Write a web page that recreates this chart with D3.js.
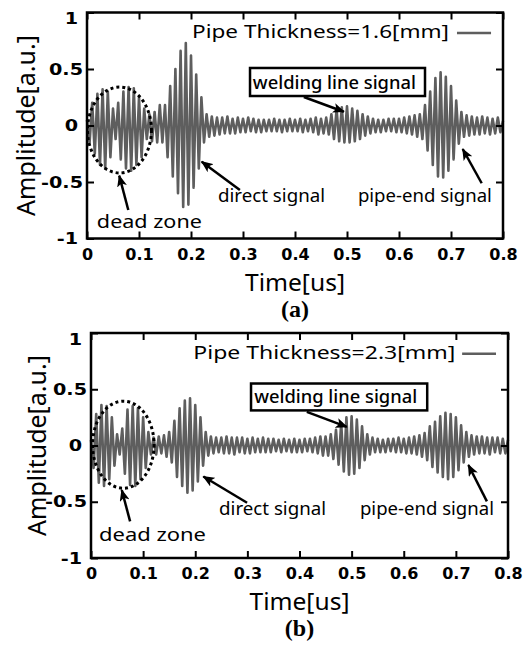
<!DOCTYPE html>
<html>
<head>
<meta charset="utf-8">
<script src="https://cdn.jsdelivr.net/npm/d3@7"></script>
<style>
  body { margin: 0; background: #fff; }
  text { fill: #000; }
</style>
</head>
<body>
<svg id="chart" width="528" height="650"></svg>
<script>
const dt = 0.005;

// (a) pipe thickness 1.6 mm
const signalA = [
  0.05, -0.15, 0.20, -0.25, 0.28, -0.35, 0.32, -0.38, 0.30, -0.28,
  0.15, -0.12, 0.20, -0.30, 0.30, -0.38, 0.34, -0.40, 0.33, -0.35,
  0.25, -0.28, 0.15, -0.12, 0.10, -0.14, 0.12, -0.15, 0.18, -0.15,
  0.18, -0.28, 0.35, -0.45, 0.50, -0.60, 0.66, -0.72, 0.73, -0.70,
  0.62, -0.55, 0.45, -0.38, 0.25, -0.15, 0.10, -0.10, 0.08, -0.09,
  0.07, -0.08, 0.07, -0.07, 0.08, -0.07, 0.06, -0.07, 0.07, -0.06,
  0.06, -0.06, 0.07, -0.05, 0.06, -0.06, 0.05, -0.06, 0.05, -0.05,
  0.05, -0.05, 0.06, -0.05, 0.05, -0.06, 0.05, -0.05, 0.06, -0.05,
  0.05, -0.05, 0.06, -0.06, 0.05, -0.05, 0.06, -0.06, 0.07, -0.08,
  0.06, -0.07, 0.07, -0.08, 0.10, -0.12, 0.14, -0.14, 0.16, -0.15,
  0.17, -0.15, 0.15, -0.14, 0.13, -0.12, 0.10, -0.09, 0.08, -0.07,
  0.06, -0.06, 0.05, -0.06, 0.05, -0.05, 0.06, -0.05, 0.06, -0.06,
  0.06, -0.06, 0.07, -0.07, 0.08, -0.08, 0.09, -0.10, 0.10, -0.12,
  0.18, -0.22, 0.30, -0.35, 0.42, -0.45, 0.47, -0.46, 0.43, -0.40,
  0.35, -0.30, 0.22, -0.16, 0.12, -0.10, 0.09, -0.09, 0.08, -0.08,
  0.07, -0.08, 0.08, -0.07, 0.07, -0.08, 0.06, -0.07, 0.07, -0.06,
  0.04
];

// (b) pipe thickness 2.3 mm
const signalB = [
  0.05, -0.20, 0.28, -0.33, 0.36, -0.36, 0.35, -0.30, 0.25, -0.18,
  0.10, -0.08, 0.15, -0.25, 0.32, -0.35, 0.35, -0.36, 0.33, -0.30,
  0.25, -0.20, 0.12, -0.08, 0.07, -0.08, 0.08, -0.07, 0.09, -0.10,
  0.12, -0.15, 0.22, -0.28, 0.33, -0.36, 0.40, -0.42, 0.42, -0.40,
  0.36, -0.32, 0.25, -0.18, 0.12, -0.09, 0.08, -0.07, 0.07, -0.06,
  0.07, -0.07, 0.08, -0.07, 0.07, -0.08, 0.07, -0.06, 0.07, -0.07,
  0.06, -0.07, 0.07, -0.06, 0.06, -0.06, 0.07, -0.06, 0.06, -0.06,
  0.06, -0.05, 0.05, -0.06, 0.06, -0.05, 0.05, -0.06, 0.06, -0.06,
  0.05, -0.06, 0.06, -0.05, 0.06, -0.06, 0.07, -0.07, 0.08, -0.09,
  0.08, -0.09, 0.10, -0.12, 0.14, -0.17, 0.20, -0.23, 0.25, -0.26,
  0.26, -0.25, 0.23, -0.20, 0.17, -0.13, 0.10, -0.08, 0.07, -0.06,
  0.06, -0.06, 0.05, -0.06, 0.06, -0.05, 0.06, -0.06, 0.07, -0.06,
  0.06, -0.07, 0.07, -0.07, 0.08, -0.08, 0.09, -0.10, 0.11, -0.13,
  0.17, -0.19, 0.21, -0.24, 0.26, -0.28, 0.29, -0.30, 0.28, -0.28,
  0.25, -0.22, 0.18, -0.15, 0.12, -0.10, 0.09, -0.08, 0.08, -0.07,
  0.08, -0.07, 0.07, -0.08, 0.07, -0.06, 0.07, -0.07, 0.06, -0.07,
  0.05
];

const xTicks = [0, 0.1, 0.2, 0.3, 0.4, 0.5, 0.6, 0.7, 0.8];
const yTicks = [-1, -0.5, 0, 0.5, 1];
const xTitle = "Time[us]";
const yTitle = "Amplitude[a.u.]";
const legendLabels = ["Pipe Thickness=1.6[mm]", "Pipe Thickness=2.3[mm]"];
const panelLabels = ["(a)", "(b)"];
const calloutTexts = ["welding line signal", "dead zone", "direct signal", "pipe-end signal"];

// Layout of each panel; callouts are placed in data units (time, amplitude)
const panels = [
  {
    signal: signalA, left: 87, top: 12.5, width: 416, height: 226, titleX: 35,
    legend: { t: 0.202, a: 0.774, len: 257, line: [0.7115, 0.777], lineA: 0.819 },
    box: { t0: 0.3135, t1: 0.65, a0: 0.261, a1: 0.509 },
    labels: [
      { t: 0.319, a: 0.323, len: 163 },
      { t: 0.019, a: -0.907, len: 105 },
      { t: 0.252, a: -0.677, len: 107 },
      { t: 0.521, a: -0.677, len: 134 }
    ],
    arrows: [
      [[0.417, 0.252], [0.494, 0.122]],
      [[0.0794, -0.748], [0.062, -0.444]],
      [[0.294, -0.571], [0.2206, -0.32]],
      [[0.759, -0.511], [0.7225, -0.208]]
    ],
    zone: { t: 0.0625, a: -0.04, rt: 0.0615, ra: 0.38 }
  },
  {
    signal: signalB, left: 91, top: 333, width: 417, height: 225, titleX: 46,
    legend: { t: 0.1963, a: 0.772, len: 262, line: [0.712, 0.777], lineA: 0.816 },
    box: { t0: 0.307, t1: 0.645, a0: 0.312, a1: 0.551 },
    labels: [
      { t: 0.313, a: 0.376, len: 163 },
      { t: 0.0154, a: -0.851, len: 107 },
      { t: 0.2457, a: -0.615, len: 107 },
      { t: 0.516, a: -0.615, len: 134 }
    ],
    arrows: [
      [[0.414, 0.299], [0.4908, 0.166]],
      [[0.075, -0.674], [0.059, -0.396]],
      [[0.2994, -0.509], [0.2155, -0.276]],
      [[0.7595, -0.497], [0.724, -0.173]]
    ],
    zone: { t: 0.062, a: 0.007, rt: 0.059, ra: 0.387 }
  }
];

const svg = d3.select("#chart");
const labelFont = "'Noto Sans', 'Open Sans', sans-serif";
const tickFont = "'DejaVu Sans', Verdana, sans-serif";

svg.append("defs").append("marker")
  .attr("id", "head")
  .attr("viewBox", "0 0 12 10")
  .attr("refX", 11).attr("refY", 5)
  .attr("markerWidth", 12).attr("markerHeight", 10)
  .attr("markerUnits", "userSpaceOnUse")
  .attr("orient", "auto")
  .append("path")
  .attr("d", "M0,0 L12,5 L0,10 L3,5 Z")
  .attr("fill", "#000");

panels.forEach((p, k) => {
  const x = d3.scaleLinear().domain([0, 0.8]).range([0, p.width]);
  const y = d3.scaleLinear().domain([-1, 1]).range([p.height, 0]);
  const g = svg.append("g").attr("transform", `translate(${p.left},${p.top})`);

  // waveform
  const line = d3.line().x((d, i) => x(i * dt)).y(d => y(d));
  g.append("path")
    .datum(p.signal)
    .attr("d", line)
    .attr("fill", "none")
    .attr("stroke", "#5e5e5e")
    .attr("stroke-width", 2.6)
    .attr("stroke-linejoin", "round");

  // inward ticks on all four sides
  const tick = 7;
  const xAxis = g.append("g").attr("transform", `translate(0,${p.height})`)
    .call(d3.axisBottom(x).tickValues(xTicks).tickSize(-tick).tickPadding(10)
      .tickFormat(d => d === 0 ? "0" : d3.format(".1f")(d)));
  xAxis.select(".domain").remove();
  xAxis.selectAll("line").attr("stroke-width", 2);
  xAxis.selectAll("text")
    .attr("font-family", tickFont).attr("font-size", 16).attr("font-weight", "bold");

  const yAxis = g.append("g")
    .call(d3.axisLeft(y).tickValues(yTicks).tickSize(-tick).tickPadding(4)
      .tickFormat(d => String(d)));
  yAxis.select(".domain").remove();
  yAxis.selectAll("line").attr("stroke-width", 2);
  yAxis.selectAll("text")
    .attr("font-family", tickFont).attr("font-size", 16).attr("font-weight", "bold")
    .attr("x", null)
    .attr("transform", d => `translate(${Number.isInteger(d) ? -9 : -4},${d === 1 ? 6 : 0}) scale(1.2,1)`);

  const topAxis = g.append("g")
    .call(d3.axisTop(x).tickValues(xTicks).tickSize(-tick).tickFormat(""));
  topAxis.select(".domain").remove();
  topAxis.selectAll("line").attr("stroke-width", 2);

  const rightAxis = g.append("g").attr("transform", `translate(${p.width},0)`)
    .call(d3.axisRight(y).tickValues(yTicks).tickSize(-tick).tickFormat(""));
  rightAxis.select(".domain").remove();
  rightAxis.selectAll("line").attr("stroke-width", 2);

  g.append("rect")
    .attr("width", p.width).attr("height", p.height)
    .attr("fill", "none").attr("stroke", "#000").attr("stroke-width", 2.5);

  // axis titles
  g.append("text")
    .attr("x", p.width / 2).attr("y", p.height + 52)
    .attr("text-anchor", "middle")
    .attr("font-family", labelFont).attr("font-size", 24)
    .attr("textLength", 100).attr("lengthAdjust", "spacingAndGlyphs")
    .text(xTitle);
  svg.append("text")
    .attr("transform", `translate(${p.titleX},${p.top + p.height / 2}) rotate(-90)`)
    .attr("text-anchor", "middle")
    .attr("font-family", labelFont).attr("font-size", 25)
    .text(yTitle);

  // legend
  g.append("text")
    .attr("x", x(p.legend.t)).attr("y", y(p.legend.a))
    .attr("font-family", labelFont).attr("font-size", 18)
    .attr("textLength", p.legend.len).attr("lengthAdjust", "spacingAndGlyphs")
    .text(legendLabels[k]);
  g.append("line")
    .attr("x1", x(p.legend.line[0])).attr("x2", x(p.legend.line[1]))
    .attr("y1", y(p.legend.lineA)).attr("y2", y(p.legend.lineA))
    .attr("stroke", "#5e5e5e").attr("stroke-width", 2.6);

  // dead zone ring
  g.append("ellipse")
    .attr("cx", x(p.zone.t)).attr("cy", y(p.zone.a))
    .attr("rx", x(p.zone.rt) - x(0)).attr("ry", y(0) - y(p.zone.ra))
    .attr("fill", "none").attr("stroke", "#000")
    .attr("stroke-width", 3).attr("stroke-dasharray", "3,3");

  // welding line box
  g.append("rect")
    .attr("x", x(p.box.t0)).attr("y", y(p.box.a1))
    .attr("width", x(p.box.t1) - x(p.box.t0)).attr("height", y(p.box.a0) - y(p.box.a1))
    .attr("fill", "#fff").attr("stroke", "#000").attr("stroke-width", 2.5);

  p.labels.forEach((l, i) => {
    g.append("text")
      .attr("x", x(l.t)).attr("y", y(l.a))
      .attr("font-family", labelFont).attr("font-size", 18)
      .attr("font-weight", i === 0 ? 500 : 400)
      .attr("textLength", l.len).attr("lengthAdjust", "spacingAndGlyphs")
      .text(calloutTexts[i]);
  });

  p.arrows.forEach(([from, to]) => {
    g.append("line")
      .attr("x1", x(from[0])).attr("y1", y(from[1]))
      .attr("x2", x(to[0])).attr("y2", y(to[1]))
      .attr("stroke", "#000").attr("stroke-width", 2.5)
      .attr("marker-end", "url(#head)");
  });

  // panel caption
  g.append("text")
    .attr("x", p.width / 2).attr("y", p.height + 78)
    .attr("text-anchor", "middle")
    .attr("font-family", "'Liberation Serif', 'Times New Roman', serif")
    .attr("font-weight", "bold").attr("font-size", 24)
    .text(panelLabels[k]);
});
</script>
</body>
</html>
